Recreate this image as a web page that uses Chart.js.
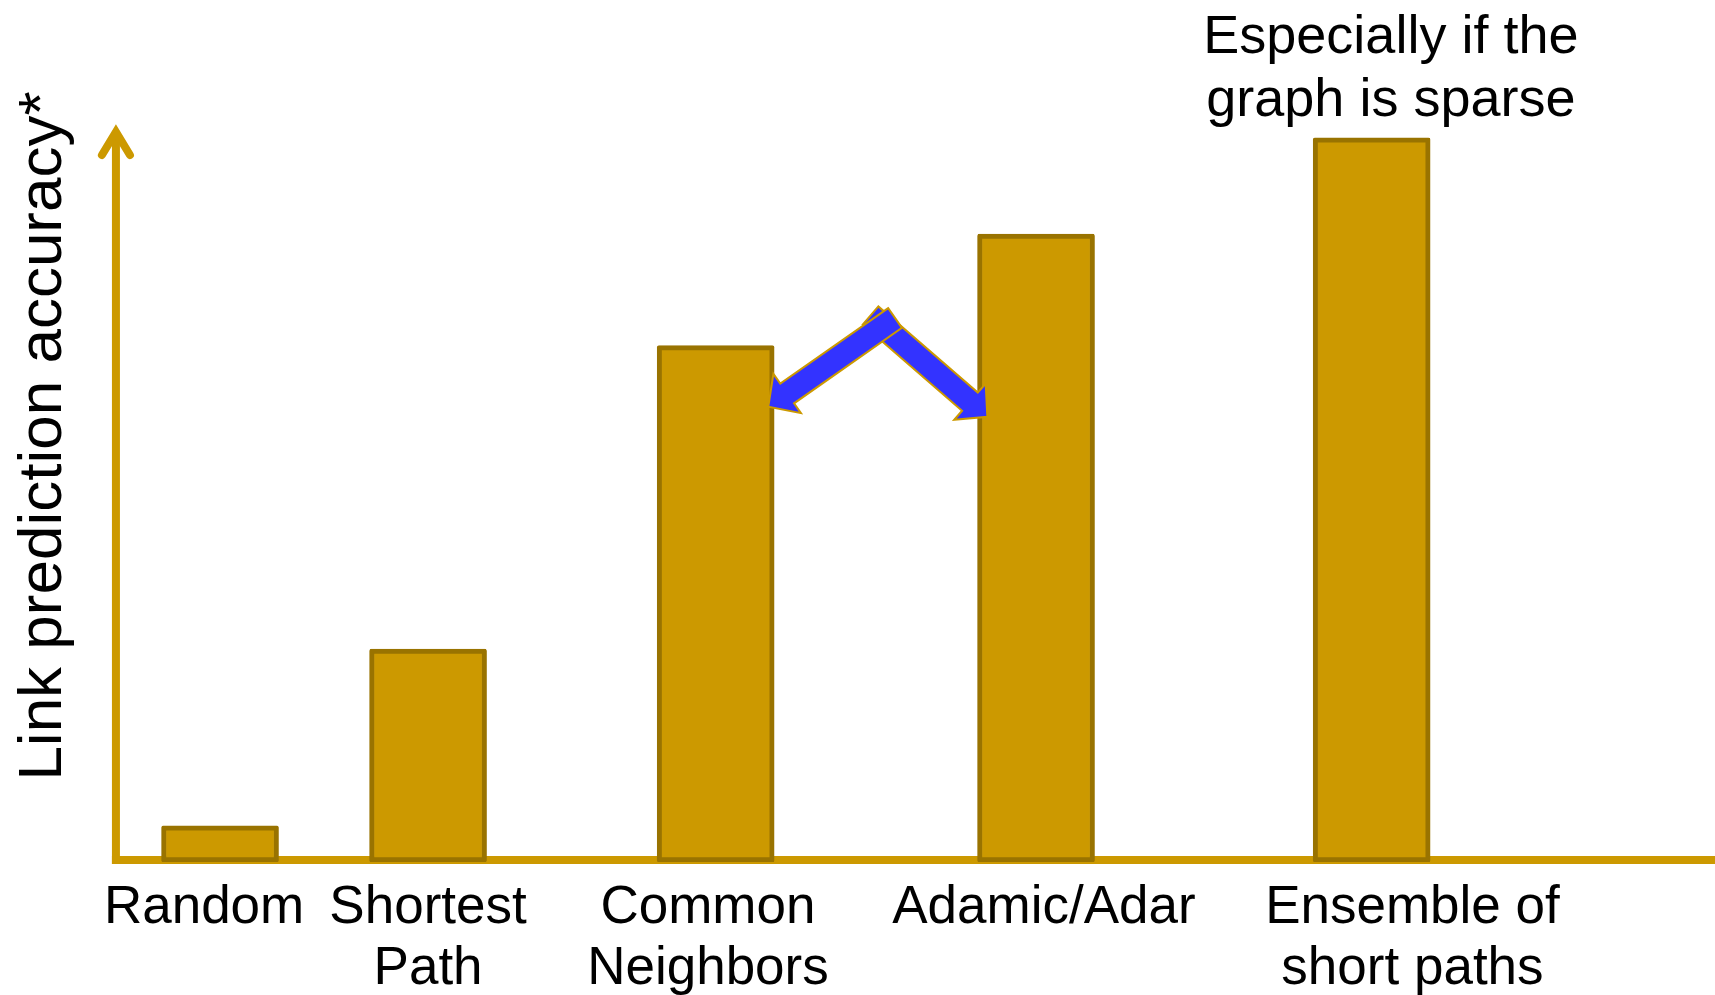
<!DOCTYPE html>
<html>
<head>
<meta charset="utf-8">
<title>Link prediction accuracy</title>
<script src="https://cdn.jsdelivr.net/npm/chart.js@4/dist/chart.umd.min.js"></script>
<style>
  html, body { margin: 0; padding: 0; background: #ffffff; }
  canvas { display: block; }
</style>
</head>
<body>
<canvas id="chart" width="1715" height="995"></canvas>
<script>
// Predictors compared, and their relative link prediction accuracy
const categories = [
  ["Random"],
  ["Shortest", "Path"],
  ["Common", "Neighbors"],
  ["Adamic/Adar"],
  ["Ensemble of", "short paths"]
];
const accuracy = [5.0, 29.4, 71.3, 86.7, 100];

// Horizontal placement of each bar and its caption on a 0–100 axis
const barCenters = [12.83, 24.96, 41.73, 60.41, 79.98];
const labelCenters = [11.9, 24.96, 41.28, 60.87, 82.36];
const axisPosition = 6.76;

// Note above the tallest bar
const noteLines = ["Especially if the", "graph is sparse"];
const noteCenter = 81.1;

// Block arrows between Common Neighbors and Adamic/Adar: [tailX, tailY, tipX, tipY]
const blockArrows = [
  [50.76, 75.46, 57.57, 61.48],
  [52.19, 75.11, 44.80, 62.87]
];

const axisTitle = "Link prediction accuracy*";

const GOLD = "#CC9900";
const GOLD_DARK = "#997300";
const BLUE = "#3333FF";
const FONT = "'Liberation Sans', Arial, Helvetica, sans-serif";

const axesPlugin = {
  id: "arrowAxes",
  beforeDatasetsDraw(chart) {
    const { ctx, scales: { x, y } } = chart;
    const zero = y.getPixelForValue(0);
    const ax = x.getPixelForValue(axisPosition);
    ctx.save();
    ctx.strokeStyle = GOLD;
    ctx.fillStyle = GOLD;
    // horizontal base line
    ctx.fillRect(ax - 4, zero - 6, chart.width - (ax - 4), 8);
    // vertical axis with open arrow head
    ctx.lineWidth = 8;
    ctx.lineCap = "butt";
    ctx.beginPath();
    ctx.moveTo(ax, zero + 2);
    ctx.lineTo(ax, chart.chartArea.top + 10);
    ctx.stroke();
    ctx.lineCap = "round";
    ctx.lineJoin = "miter";
    ctx.beginPath();
    ctx.moveTo(ax - 14, chart.chartArea.top + 31);
    ctx.lineTo(ax, chart.chartArea.top + 8);
    ctx.lineTo(ax + 14, chart.chartArea.top + 31);
    ctx.stroke();
    ctx.restore();
  }
};

function drawBlockArrow(ctx, x1, y1, x2, y2) {
  const shaftW = 24, headW = 48, headL = 23;
  const len = Math.hypot(x2 - x1, y2 - y1);
  const ux = (x2 - x1) / len, uy = (y2 - y1) / len;
  const nx = -uy, ny = ux;
  const neckX = x2 - ux * headL, neckY = y2 - uy * headL;
  const pts = [
    [x1 + nx * shaftW / 2, y1 + ny * shaftW / 2],
    [neckX + nx * shaftW / 2, neckY + ny * shaftW / 2],
    [neckX + nx * headW / 2, neckY + ny * headW / 2],
    [x2, y2],
    [neckX - nx * headW / 2, neckY - ny * headW / 2],
    [neckX - nx * shaftW / 2, neckY - ny * shaftW / 2],
    [x1 - nx * shaftW / 2, y1 - ny * shaftW / 2]
  ];
  ctx.beginPath();
  pts.forEach((p, i) => (i ? ctx.lineTo(p[0], p[1]) : ctx.moveTo(p[0], p[1])));
  ctx.closePath();
  ctx.fillStyle = BLUE;
  ctx.fill();
  ctx.lineWidth = 2;
  ctx.strokeStyle = GOLD;
  ctx.stroke();
}

const textPlugin = {
  id: "captions",
  afterDatasetsDraw(chart) {
    const { ctx, scales: { x, y } } = chart;
    ctx.save();
    blockArrows.forEach(a => {
      drawBlockArrow(ctx,
        x.getPixelForValue(a[0]), y.getPixelForValue(a[1]),
        x.getPixelForValue(a[2]), y.getPixelForValue(a[3]));
    });

    ctx.fillStyle = "#000000";
    ctx.textAlign = "center";
    ctx.textBaseline = "alphabetic";
    ctx.font = "53px " + FONT;
    const zero = y.getPixelForValue(0);
    categories.forEach((lines, i) => {
      const cx = x.getPixelForValue(labelCenters[i]);
      lines.forEach((t, j) => ctx.fillText(t, cx, zero + 61 + j * 61));
    });

    ctx.font = "54px " + FONT;
    const nx = x.getPixelForValue(noteCenter);
    noteLines.forEach((t, j) => ctx.fillText(t, nx, 53 + j * 63));

    ctx.font = "62px " + FONT;
    ctx.translate(61, 436);
    ctx.rotate(-Math.PI / 2);
    ctx.fillText(axisTitle, 0, 0);
    ctx.restore();
  }
};

new Chart(document.getElementById("chart"), {
  type: "bar",
  data: {
    datasets: [{
      data: accuracy.map((v, i) => ({ x: barCenters[i], y: v })),
      backgroundColor: GOLD,
      borderColor: GOLD_DARK,
      borderWidth: 5,
      borderSkipped: false,
      borderRadius: 2,
      barThickness: 117
    }]
  },
  options: {
    responsive: false,
    animation: false,
    events: [],
    layout: { padding: { top: 124, bottom: 133, left: 0, right: 0 } },
    scales: {
      x: { type: "linear", min: 0, max: 100, offset: false, display: false },
      y: { min: 0, max: 101.9, display: false }
    },
    plugins: { legend: { display: false }, tooltip: { enabled: false } }
  },
  plugins: [axesPlugin, textPlugin]
});
</script>
</body>
</html>
